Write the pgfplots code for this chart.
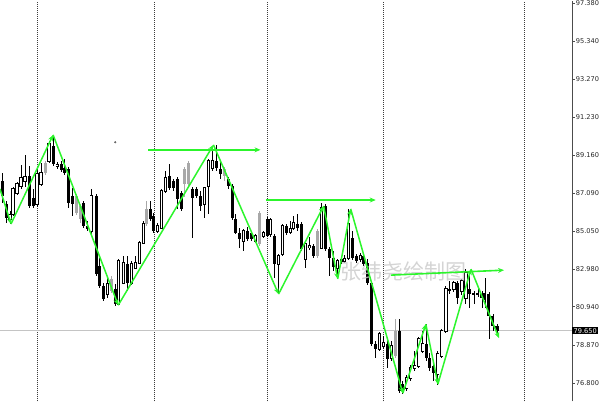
\documentclass[border=0pt]{standalone}
\usepackage{pgfplots}
\pgfplotsset{compat=1.18}
\usepackage{pgfplotstable}
\usepackage{fontspec}
\setmainfont{DejaVu Sans}
\newfontfamily\cjk{Noto Sans CJK SC}
\usetikzlibrary{arrows.meta}

\definecolor{zz}{HTML}{2CF52C}
\definecolor{gridc}{HTML}{3C3C3C}
\definecolor{graycandle}{HTML}{A8A8A8}
\definecolor{pricel}{HTML}{C4C4C4}

% candles: x, open, high, low, close, type (0 up, 1 down, 2 grey)
\pgfplotstableread{
x O H L C t
2 87.76 88.20 86.57 86.95 1
6 86.52 86.68 85.49 85.76 1
10 85.70 86.14 85.43 85.92 0
13 85.97 87.44 85.87 87.33 0
17 87.11 87.71 87.01 87.60 0
21 87.49 88.63 87.33 87.93 0
25 87.76 89.18 87.44 87.98 0
29 88.04 88.58 86.30 86.41 1
33 86.84 87.33 86.30 86.41 1
37 86.52 88.42 86.35 88.14 0
41 87.60 88.74 87.49 88.20 0
45 88.20 88.85 88.09 88.74 2
49 88.85 89.94 88.74 89.77 0
53 89.66 90.26 88.58 88.69 1
57 88.58 88.80 88.42 88.63 0
61 88.69 88.85 88.25 88.36 1
64 88.47 88.96 88.09 88.20 1
68 88.42 88.52 86.30 86.57 1
72 86.95 87.38 85.87 86.52 1
76 86.03 87.06 85.92 86.95 2
80 85.70 86.52 85.49 86.41 2
83 86.57 86.68 85.21 85.32 1
87 85.32 85.59 85.05 85.16 1
91 85.05 87.33 84.89 86.95 0
96 86.95 87.06 82.61 82.72 1
99 83.15 83.59 81.96 82.07 1
103 82.07 82.23 81.25 81.36 1
107 81.63 82.50 81.41 82.17 0
111 81.79 82.61 81.69 82.45 2
115 81.90 82.17 80.98 81.09 1
118 81.09 83.53 81.03 83.42 0
123 82.23 83.69 82.17 83.31 0
127 83.26 83.69 81.79 82.23 1
131 82.23 83.42 82.12 83.26 0
135 83.04 83.69 82.99 83.31 0
139 83.31 84.51 83.26 84.40 0
143 84.40 85.59 84.35 85.43 0
146 85.43 86.68 85.32 86.25 2
150 86.25 86.68 85.59 85.70 1
153 85.87 86.03 84.94 85.05 1
157 85.05 85.49 84.94 85.32 0
161 85.21 87.33 85.16 87.22 0
165 87.22 88.31 87.11 87.93 0
169 88.04 88.69 87.28 87.38 1
173 87.76 87.87 87.22 87.38 1
177 87.87 87.98 86.25 86.79 1
181 87.11 87.22 86.14 86.25 1
184 87.60 88.52 86.90 88.42 2
188 87.60 88.85 87.49 88.74 2
192 87.33 87.44 84.67 86.84 1
196 87.33 87.44 86.84 86.95 1
200 86.95 87.22 86.14 86.41 1
204 86.52 87.44 85.76 87.38 0
208 87.49 88.96 85.97 88.85 0
212 88.47 89.66 88.31 88.85 0
216 88.85 89.72 88.31 88.47 1
220 88.42 88.85 87.87 88.14 1
224 88.04 88.52 87.76 88.42 2
228 87.87 87.98 87.33 87.49 1
232 87.49 87.60 85.65 85.76 1
235 85.70 85.97 84.89 84.94 1
239 84.94 85.21 84.13 84.62 1
243 84.51 85.16 83.97 85.05 0
247 85.05 85.27 84.51 84.62 1
251 84.94 85.05 84.51 84.62 1
255 84.51 84.89 84.40 84.78 0
259 84.35 86.14 84.24 86.03 2
263 84.78 85.05 84.67 84.94 0
267 85.70 85.81 84.73 84.78 1
270 84.89 85.76 84.73 85.65 0
274 84.78 84.89 82.50 83.26 1
278 83.26 83.80 81.63 83.69 0
282 83.80 85.43 83.69 85.32 0
286 85.32 85.43 84.83 84.94 1
290 85.00 85.59 84.89 85.16 0
293 85.21 85.87 85.11 85.49 0
297 85.43 85.97 85.05 85.21 1
301 85.43 85.54 83.97 84.07 1
305 83.53 84.40 83.04 84.35 0
309 84.18 84.73 84.02 84.24 0
313 84.24 84.35 83.59 83.69 1
317 83.69 85.16 83.59 85.05 2
321 84.13 86.57 84.07 86.30 0
325 86.41 86.52 83.97 84.07 1
329 84.07 84.18 82.61 83.59 1
333 83.59 83.97 82.88 83.10 1
337 83.04 83.53 82.45 83.42 0
341 83.53 83.69 83.26 83.37 1
344 83.42 83.75 83.31 83.53 0
348 83.59 86.25 83.48 85.43 0
352 84.67 85.05 83.48 83.59 1
356 83.69 83.80 83.31 83.42 1
360 83.53 83.86 83.37 83.69 0
363 83.69 83.80 83.15 83.26 1
367 83.31 83.53 82.12 82.23 1
371 82.23 82.34 78.81 78.92 1
375 78.92 79.08 78.16 78.65 1
379 78.65 79.57 78.54 79.46 0
383 78.81 79.35 78.65 78.97 0
387 78.92 79.08 77.61 78.10 1
391 78.16 79.08 77.99 78.81 0
395 78.27 80.28 78.16 79.62 2
399 79.62 80.28 76.26 76.37 1
402 76.75 76.91 76.20 76.37 1
406 76.53 77.23 76.37 77.07 0
410 77.07 77.78 76.91 77.61 0
414 77.61 78.54 77.45 77.72 0
418 77.72 79.30 77.61 79.19 0
422 78.54 79.62 78.43 78.92 0
426 78.92 80.00 77.99 78.16 1
429 78.16 78.43 77.45 77.61 1
433 77.72 77.99 76.91 77.34 1
437 77.29 78.54 76.69 78.37 0
441 78.27 79.73 78.16 79.62 0
445 79.62 82.07 79.51 81.90 0
449 81.90 82.34 81.63 81.79 1
453 81.90 82.34 81.74 82.23 0
457 82.23 82.34 81.09 81.41 1
461 81.79 82.45 81.58 82.34 0
465 81.41 82.99 81.09 82.77 0
469 81.90 82.88 80.87 81.63 1
473 81.69 81.79 81.09 81.58 1
477 81.69 81.90 81.47 81.58 1
481 81.63 81.79 80.87 81.41 1
484 81.69 82.50 80.87 81.31 1
488 81.63 81.74 79.19 80.44 1
492 80.44 80.55 79.62 79.89 1
496 79.89 80.00 79.46 79.65 1
}\candles

% zigzag swings: start point and end point of each leg
\pgfplotstableread{
x y x2 y2
0 87.33 11 85.43
11 85.43 53 90.26
53 90.26 118 81.03
118 81.03 213 89.72
213 89.72 278 81.63
278 81.63 323 86.41
323 86.41 337 82.45
337 82.45 350 86.25
350 86.25 402 76.26
402 76.26 425 80.00
425 80.00 437 76.75
437 76.75 470 82.99
470 82.99 498 79.24
}\zigzag

% projected levels
\pgfplotstableread{
x y x2 y2
148 89.45 260 89.45
265 86.73 375 86.73
390 82.66 503 82.93
}\levels

\begin{document}
\begin{tikzpicture}
\begin{axis}[
  scale only axis, width=571pt, height=400pt,
  xmin=0, xmax=571, ymin=75.82, ymax=97.54,
  axis y line*=right, axis x line*=bottom,
  x axis line style={draw=none},
  y axis line style={draw=black!70, line width=0.8pt},
  xtick={37,154,267,383,523}, xticklabels={},
  xtick style={draw=none},
  xmajorgrids,
  x grid style={gridc, line width=0.8pt, dash pattern=on 1pt off 1pt},
  ytick={76.8,78.87,80.94,82.98,85.05,87.09,89.16,91.23,93.27,95.34,97.38},
  yticklabels={76.800,78.870,80.940,82.980,85.050,87.090,89.160,91.230,93.270,95.340,97.380},
  tick align=outside, major tick length=2.5pt,
  ytick style={draw=black!70, line width=0.8pt},
  yticklabel style={font=\fontsize{6.6}{7}\selectfont, inner sep=1pt, text=black!85},
  /pgf/number format/assume math mode=true,
]

% current price line
\addplot[draw=pricel, line width=0.8pt, forget plot] coordinates {(0,79.65) (571,79.65)};

% wicks
\addplot[draw=none, mark=none, forget plot,
  restrict expr to domain={\thisrow{t}}{0:1},
  error bars/.cd, y dir=both, y explicit, error mark=none,
  error bar style={draw=black, line width=0.9pt}]
  table[x=x, y expr={(\thisrow{H}+\thisrow{L})/2}, y error expr={(\thisrow{H}-\thisrow{L})/2}] {\candles};
\addplot[draw=none, mark=none, forget plot,
  restrict expr to domain={\thisrow{t}}{2:2},
  error bars/.cd, y dir=both, y explicit, error mark=none,
  error bar style={draw=graycandle, line width=0.9pt}]
  table[x=x, y expr={(\thisrow{H}+\thisrow{L})/2}, y error expr={(\thisrow{H}-\thisrow{L})/2}] {\candles};

% down bodies
\addplot[draw=none, mark=none, forget plot,
  restrict expr to domain={\thisrow{t}}{1:1},
  error bars/.cd, y dir=both, y explicit, error mark=none,
  error bar style={draw=black, line width=3pt}]
  table[x=x, y expr={(\thisrow{O}+\thisrow{C})/2}, y error expr={max(abs(\thisrow{O}-\thisrow{C})/2,0.03)}] {\candles};
% grey bodies
\addplot[draw=none, mark=none, forget plot,
  restrict expr to domain={\thisrow{t}}{2:2},
  error bars/.cd, y dir=both, y explicit, error mark=none,
  error bar style={draw=graycandle, line width=3pt}]
  table[x=x, y expr={(\thisrow{O}+\thisrow{C})/2}, y error expr={max(abs(\thisrow{O}-\thisrow{C})/2,0.03)}] {\candles};
% up bodies: outline then white fill
\addplot[draw=none, mark=none, forget plot,
  restrict expr to domain={\thisrow{t}}{0:0},
  error bars/.cd, y dir=both, y explicit, error mark=none,
  error bar style={draw=black, line width=3.2pt}]
  table[x=x, y expr={(\thisrow{O}+\thisrow{C})/2}, y error expr={abs(\thisrow{O}-\thisrow{C})/2+0.054}] {\candles};
\addplot[draw=none, mark=none, forget plot,
  restrict expr to domain={\thisrow{t}}{0:0},
  error bars/.cd, y dir=both, y explicit, error mark=none,
  error bar style={draw=white, line width=1.4pt}]
  table[x=x, y expr={(\thisrow{O}+\thisrow{C})/2}, y error expr={abs(\thisrow{O}-\thisrow{C})/2}] {\candles};

% stray marker
\addplot[only marks, mark=*, mark size=0.8pt, draw=black!60, fill=black!60, forget plot] coordinates {(115,89.86)};

% watermark
\node[font=\cjk\fontsize{21}{21}\selectfont, text=black!20, opacity=0.85] at (axis cs:403,82.83) {张纬尧绘制图};

% zigzag legs
\addplot[forget plot, draw=zz, line width=1.5pt, -{Stealth[length=6pt,width=5pt]},
  quiver={u=\thisrow{x2}-\thisrow{x}, v=\thisrow{y2}-\thisrow{y}}]
  table[x=x, y=y] {\zigzag};
% level arrows
\addplot[forget plot, draw=zz, line width=1.6pt, -{Stealth[length=6pt,width=5pt]},
  quiver={u=\thisrow{x2}-\thisrow{x}, v=\thisrow{y2}-\thisrow{y}}]
  table[x=x, y=y] {\levels};

\coordinate (lastprice) at (axis cs:571,79.65);
\end{axis}
\node[anchor=west, fill=black, text=white, inner sep=1.3pt, font=\fontsize{6.6}{7}\selectfont] at (lastprice) {79.650};
\end{tikzpicture}
\end{document}
